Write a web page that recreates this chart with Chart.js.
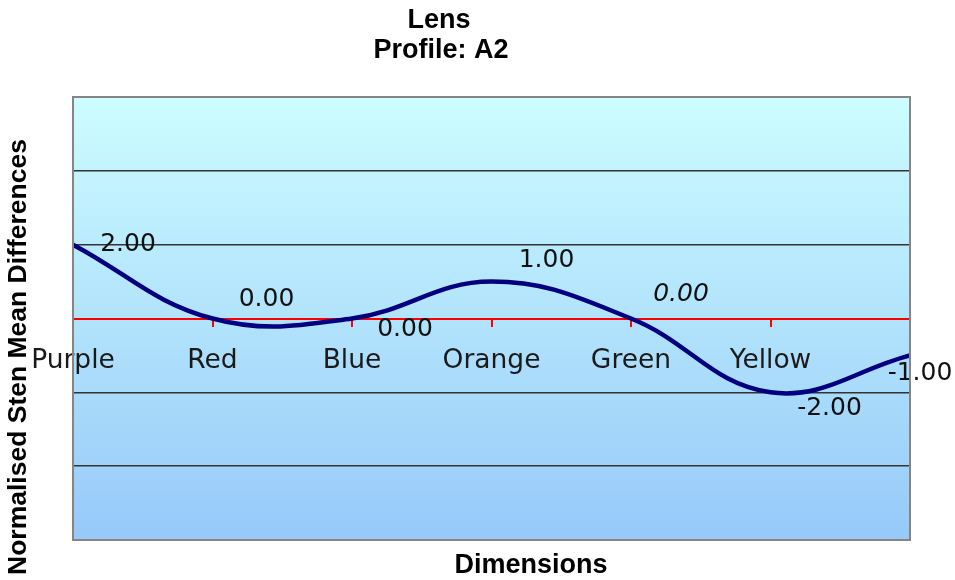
<!DOCTYPE html>
<html>
<head>
<meta charset="utf-8">
<script src="https://cdn.jsdelivr.net/npm/chart.js@4.4.1/dist/chart.umd.min.js"></script>
<style>
  html, body { margin: 0; padding: 0; background: #fff; }
  #wrap { width: 955px; height: 580px; }
</style>
</head>
<body>
<div id="wrap"><canvas id="lens-chart"></canvas></div>
<script>
// data
const dimensions = ['Purple', 'Red', 'Blue', 'Orange', 'Green', 'Yellow', ''];
const stenDiffs = [2, 0, 0, 1, 0, -2, -1];
const yMin = -6;
const yMax = 6;
const yStep = 2;
const chartTitle = ['Lens', 'Profile: A2'];
const xTitle = 'Dimensions';
const yTitle = 'Normalised Sten Mean Differences';

// where each value label sits relative to its point
const labelShift = [[55, 0], [54, -19], [53, 11], [55, -21], [50, -24], [59, 16], [10, 18]];
const italicLabel = 4;

const decor = {
    id: 'decor',
    beforeDraw(chart) {
        const { ctx, chartArea: a } = chart;
        const grad = ctx.createLinearGradient(0, a.top, 0, a.bottom);
        grad.addColorStop(0, '#ccfdff');
        grad.addColorStop(1, '#97c9f9');
        ctx.save();
        ctx.fillStyle = grad;
        ctx.fillRect(a.left, a.top, a.right - a.left, a.bottom - a.top);
        ctx.restore();
    },
    afterDatasetsDraw(chart) {
        const { ctx } = chart;
        const points = chart.getDatasetMeta(0).data;
        ctx.save();
        ctx.fillStyle = '#111';
        ctx.textAlign = 'center';
        ctx.textBaseline = 'middle';
        points.forEach((pt, i) => {
            const [dx, dy] = labelShift[i];
            ctx.font = (i === italicLabel ? 'italic ' : '') + '25px "DejaVu Sans"';
            ctx.fillText(stenDiffs[i].toFixed(2), pt.x + dx, pt.y + dy);
        });
        ctx.restore();
    },
    afterDraw(chart) {
        const { ctx, chartArea: a } = chart;
        ctx.save();
        // plot frame
        ctx.strokeStyle = '#858585';
        ctx.lineWidth = 2;
        ctx.strokeRect(a.left, a.top, a.right - a.left, a.bottom - a.top);
        // titles
        ctx.fillStyle = '#000';
        ctx.textAlign = 'center';
        ctx.textBaseline = 'middle';
        ctx.font = 'bold 27px "Liberation Sans"';
        ctx.fillText(chartTitle[0], 439, 21);
        ctx.fillText(chartTitle[1], 441, 51);
        ctx.fillText(xTitle, 531, 566);
        ctx.translate(19, 357);
        ctx.rotate(-Math.PI / 2);
        ctx.font = 'bold 26.5px "Liberation Sans"';
        ctx.fillText(yTitle, 0, 0);
        ctx.restore();
    }
};

const chart = new Chart(document.getElementById('lens-chart'), {
    type: 'line',
    data: {
        labels: dimensions,
        datasets: [{
            data: stenDiffs,
            borderColor: '#000080',
            borderWidth: 4.5,
            pointRadius: 0,
            tension: 0.4,
            fill: false
        }]
    },
    options: {
        responsive: true,
        maintainAspectRatio: false,
        animation: false,
        layout: {
            padding: { left: 73, top: 97, right: 45, bottom: 40 }
        },
        plugins: {
            legend: { display: false },
            tooltip: { enabled: false },
            title: { display: false }
        },
        scales: {
            x: {
                type: 'category',
                offset: false,
                position: { y: 0 },
                grid: {
                    drawOnChartArea: false,
                    drawTicks: true,
                    tickLength: 7,
                    color: '#ff0000',
                    lineWidth: 2
                },
                border: { color: '#ff0000', width: 2 },
                ticks: {
                    autoSkip: false,
                    maxRotation: 0,
                    minRotation: 0,
                    padding: 20,
                    color: '#1a1a1a',
                    font: { family: 'DejaVu Sans', size: 26.5 }
                }
            },
            y: {
                min: yMin,
                max: yMax,
                ticks: { display: false, stepSize: yStep },
                grid: {
                    drawTicks: false,
                    color: ctx => ctx.tick.value === 0 ? 'rgba(0,0,0,0)' : '#333',
                    lineWidth: 1.4
                },
                border: { display: false }
            }
        }
    },
    plugins: [decor]
});
</script>
</body>
</html>
